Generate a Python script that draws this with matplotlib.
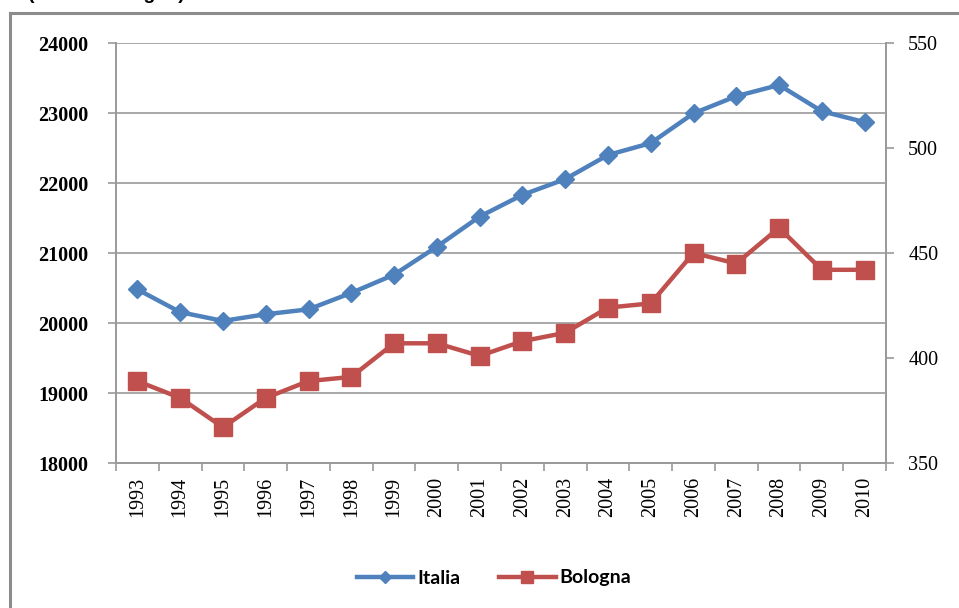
#import modules
import matplotlib
matplotlib.use("Agg")
import matplotlib.pyplot as plt
import numpy as np

#data
years = ["1993", "1994", "1995", "1996", "1997", "1998", "1999", "2000", "2001",
         "2002", "2003", "2004", "2005", "2006", "2007", "2008", "2009", "2010"]
italia = [20480, 20155, 20030, 20125, 20195, 20430, 20690, 21090, 21520,
          21830, 22055, 22400, 22570, 22995, 23240, 23400, 23025, 22870]
bologna = [389, 381, 367, 381, 389, 391, 407, 407, 401,
           408, 412, 424, 426, 450, 445, 462, 442, 442]
left_ticks = [18000, 19000, 20000, 21000, 22000, 23000, 24000]
right_ticks = [350, 400, 450, 500, 550]

blue = "#4F81BD"
red = "#C0504D"
grid_col = "#999999"

#figure
fig = plt.figure(figsize=(9.59, 6.08), dpi=100)
ax = fig.add_axes([116/959, 1 - 463/608, 770/959, 420/608])
ax2 = ax.twinx()

x = np.arange(len(years))

#lines
l1, = ax.plot(x, italia, color=blue, lw=3.2, marker="D", markersize=9, label="Italia",
              solid_joinstyle="round")
l2, = ax2.plot(x, bologna, color=red, lw=3.2, marker="s", markersize=13, label="Bologna",
               solid_joinstyle="round")

#axes limits
ax.set_xlim(-0.5, len(years) - 0.5)
ax.set_ylim(18000, 24000)
ax2.set_ylim(350, 550)

#grid
ax.set_yticks(left_ticks)
ax.yaxis.grid(True, color=grid_col, lw=1.2)
ax.set_axisbelow(True)
ax2.set_yticks(right_ticks)

#x ticks at category boundaries, labels in the middle
ax.set_xticks(np.arange(-0.5, len(years), 1))
ax.set_xticklabels([])
ax.set_xticks(x, minor=True)
ax.set_xticklabels(years, minor=True, rotation=90, fontsize=14.5,
                   family="Liberation Serif")
ax.tick_params(axis="x", which="minor", length=0, pad=10)
ax.tick_params(axis="x", which="major", length=6, color=grid_col, width=1.2)

ax.set_yticklabels([str(v) for v in left_ticks], fontsize=14.5,
                   family="Liberation Serif", fontweight="bold")
ax.tick_params(axis="y", length=6, color=grid_col, width=1.2, pad=14)
ax2.set_yticklabels([str(v) for v in right_ticks], fontsize=14.5,
                    family="Liberation Serif")
ax2.tick_params(axis="y", length=6, color=grid_col, width=1.2, pad=10)

for a in (ax, ax2):
    a.spines["top"].set_visible(False)
    for s in ("left", "right", "bottom"):
        a.spines[s].set_color(grid_col)
        a.spines[s].set_linewidth(1.2)

#legend
leg = fig.legend([l1, l2], ["Italia", "Bologna"], loc="center",
                 bbox_to_anchor=(494/959, 1 - 578/608), ncol=2, frameon=False,
                 prop={"family": "Lato", "weight": "bold", "size": 14},
                 handlelength=2.9, columnspacing=2.0, handletextpad=0.2,
                 markerscale=0.7)

#outer border of the chart
fig.add_artist(plt.Line2D([10/959, 10/959], [0, 1 - 13/608], color="#8c8c8c",
                          lw=2.2, transform=fig.transFigure))
fig.add_artist(plt.Line2D([10/959, 1], [1 - 13/608, 1 - 13/608], color="#8c8c8c",
                          lw=2.2, transform=fig.transFigure))

#title cut off at the top (only descenders visible in the reference)
fig.text(185/959, 1 + 1/608, "(Italia e Bologna)", ha="right", va="baseline",
         fontsize=14, fontweight="bold", family="Liberation Sans")

fig.savefig("out.png", dpi=100)
